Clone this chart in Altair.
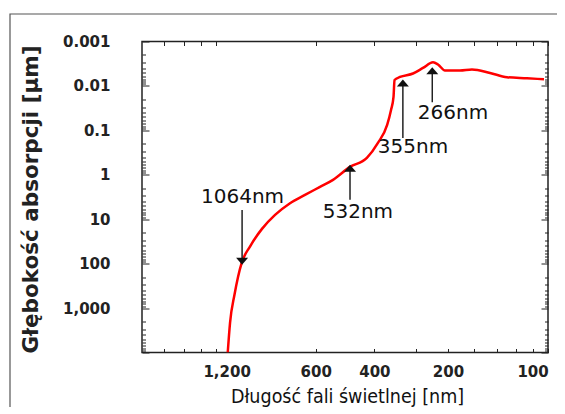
import altair as alt
import pandas as pd

# ---- curve ----
wavelength_nm = [1141, 1123, 1089, 1036, 978, 900, 822, 741, 668, 602, 550, 489, 435, 403,
                 378, 368, 361.7, 359.2, 345.8, 316, 294.9, 275.1, 265.8, 253.2, 228.2, 210,
                 185.3, 164.8, 143.4, 127.5]
depth_um = [10000, 2143, 503, 96, 41.2, 16.5, 8.0, 4.36, 2.84, 1.87, 1.30, 0.665, 0.417, 0.192,
            0.0755, 0.0348, 0.0177, 0.00735, 0.00629, 0.00525, 0.00394, 0.00294, 0.00329, 0.00449,
            0.00449, 0.00426, 0.00511, 0.00638, 0.00673, 0.00708]

# ---- axis labels / ticks ----
x_label_values = [1150, 620, 413, 248, 138]
x_label_texts = ["1,200", "600", "400", "200", "100"]
x_tick_values = [1771, 1550, 1378, 1240, 620, 413, 310, 248, 207, 177, 155, 138, 124]
y_label_values = [0.001, 0.01, 0.1, 1, 10, 100, 1000]
y_tick_values = [k * 10.0 ** d for d in range(-3, 4) for k in range(1, 10)] + [10000]

# ---- annotations ----
ann_text = ["1064nm", "532nm", "355nm", "266nm"]
ann_text_wl = [1030, 463, 316, 239.6]
ann_text_depth = [3.14, 6.84, 0.236, 0.0416]
arrow_wl = [1033, 489, 339, 276.5]
arrow_tail = [6.17, 3.67, 0.148, 0.0233]
arrow_head = [88.8, 0.711, 0.00858, 0.00456]
arrow_dir = ["down", "up", "up", "up"]

W, H = 406, 311

curve = pd.DataFrame({"wl": wavelength_nm, "depth": depth_um})
tri = {"down": "M-1,-0.58L1,-0.58L0,0.58Z", "up": "M-1,0.58L1,0.58L0,-0.58Z"}
arrows = pd.DataFrame({"wl": arrow_wl, "tail": arrow_tail, "head": arrow_head,
                       "shape": [tri[d] for d in arrow_dir]})
labels = pd.DataFrame({"wl": ann_text_wl, "depth": ann_text_depth, "text": ann_text})

xscale = alt.Scale(type="log", domain=[124, 2067], reverse=True, nice=False)
yscale = alt.Scale(type="log", domain=[0.001, 10000], reverse=True, nice=False)

label_expr = ""
for v, t in zip(x_label_values, x_label_texts):
    label_expr += f"abs(datum.value - {v}) < 1 ? '{t}' : "
label_expr += "''"

FONT = "DejaVu Sans"

axis_x_main = alt.Axis(values=x_label_values, labelExpr=label_expr, ticks=False, domain=False,
                       grid=False, labelFont=FONT, labelFontSize=15, labelFontWeight="bold",
                       labelColor="#222", labelPadding=12, labelBaseline="top", labelFlush=False,
                       labelOverlap=False, orient="bottom",
                       title="Długość fali świetlnej [nm]",
                       titleFont="DejaVu Sans Condensed, Liberation Sans Narrow, sans-serif",
                       titleFontSize=19.5, titleFontWeight="normal", titleColor="#111",
                       titleX=205, titleY=49.5, titleBaseline="alphabetic", titleAlign="center")
axis_y_main = alt.Axis(values=y_label_values, format=",~g", ticks=False, domain=False, grid=False,
                       labelFont=FONT, labelFontSize=15, labelFontWeight="bold", labelColor="#222",
                       labelPadding=32, labelFlush=False, labelOverlap=False, orient="left",
                       title="Głębokość absorpcji [µm]", titleFont=FONT, titleFontSize=21.5,
                       titleFontWeight="bold", titleColor="#222", titleX=-111, titleY=157.5,
                       titleBaseline="middle", titleAlign="center")

ytick_size = {"condition": {"test": "abs(log(datum.value)/LN10 - round(log(datum.value)/LN10)) < 0.001",
                            "value": 7}, "value": 3.5}


def tick_axis_x(orient):
    return alt.Axis(values=x_tick_values, labels=False, domain=False, grid=False, ticks=True,
                    tickSize=4, tickColor="#222", tickWidth=1, title=None, orient=orient, offset=-H)


def tick_axis_y(orient):
    return alt.Axis(values=y_tick_values, labels=False, domain=False, grid=False, ticks=True,
                    tickSize=ytick_size, tickColor="#222", tickWidth=1, title=None, orient=orient,
                    offset=-W)


line = alt.Chart(curve).mark_line(color="#ff0000", strokeWidth=2.5, clip=True,
                                  interpolate="monotone").encode(
    x=alt.X("wl:Q", scale=xscale, axis=axis_x_main),
    y=alt.Y("depth:Q", scale=yscale, axis=axis_y_main),
)
ticks_b = alt.Chart(curve).mark_line(opacity=0).encode(
    x=alt.X("wl:Q", scale=xscale, axis=tick_axis_x("bottom")),
    y=alt.Y("depth:Q", scale=yscale, axis=tick_axis_y("left")),
)
ticks_c = alt.Chart(curve).mark_line(opacity=0).encode(
    x=alt.X("wl:Q", scale=xscale, axis=tick_axis_x("top")),
    y=alt.Y("depth:Q", scale=yscale, axis=tick_axis_y("right")),
)
stems = alt.Chart(arrows).mark_rule(color="#222", strokeWidth=1.5).encode(
    x=alt.X("wl:Q", scale=xscale, axis=None),
    y=alt.Y("tail:Q", scale=yscale, axis=None),
    y2="head:Q",
)
heads = alt.Chart(arrows).mark_point(filled=True, size=144, color="#111", opacity=1,
                                     strokeWidth=0).encode(
    x=alt.X("wl:Q", scale=xscale, axis=None),
    y=alt.Y("head:Q", scale=yscale, axis=None),
    shape=alt.Shape("shape:N", scale=None),
)
texts = alt.Chart(labels).mark_text(font=FONT, fontSize=20, color="#111", baseline="middle",
                                    align="center").encode(
    x=alt.X("wl:Q", scale=xscale, axis=None),
    y=alt.Y("depth:Q", scale=yscale, axis=None),
    text="text:N",
)
frame = alt.Chart(pd.DataFrame({"k": [0]})).mark_rect(filled=False, color="#555", strokeWidth=1.2,
                                                      clip=False).encode(
    x=alt.value(-132), x2=alt.value(470), y=alt.value(-27.5), y2=alt.value(420)
)

chart = alt.layer(frame, line, ticks_b, ticks_c, stems, heads, texts).resolve_axis(
    x="independent", y="independent"
).properties(
    width=W, height=H,
    autosize=alt.AutoSizeParams(type="none"),
    padding={"left": 134, "top": 33.5, "right": 9, "bottom": 54},
).configure_view(stroke="#222", strokeWidth=1.5)

chart.save("out.html", embed_options={"renderer": "svg", "actions": False})
